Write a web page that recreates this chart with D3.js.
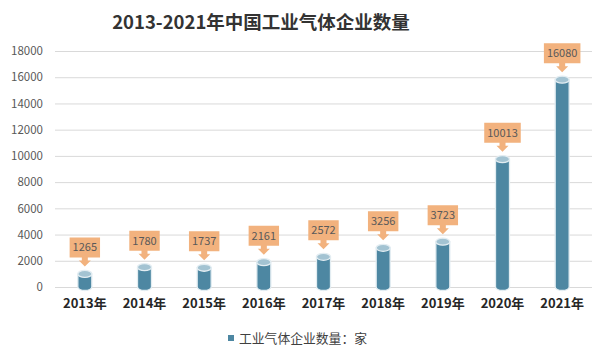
<!DOCTYPE html>
<html><head><meta charset="utf-8">
<script src="https://cdn.jsdelivr.net/npm/d3@7/dist/d3.min.js"></script>
<style>body{margin:0;background:#fff;}svg{display:block;}</style>
</head><body>
<svg id="c" width="595" height="355"></svg>
<script>
const title = "2013-2021年中国工业气体企业数量";
const categories = ["2013年","2014年","2015年","2016年","2017年","2018年","2019年","2020年","2021年"];
const values = [1265,1780,1737,2161,2572,3256,3723,10013,16080];
const yTicks = [0,2000,4000,6000,8000,10000,12000,14000,16000,18000];
const seriesName = "工业气体企业数量：家";

const svg = d3.select("#c");
const W = 595, H = 355;
const m = {l:55, r:3, t:51, b:68};
const x = d3.scaleBand().domain(categories).range([m.l, W-m.r]).paddingInner(0).paddingOuter(0);
const y = d3.scaleLinear().domain([0,18000]).range([H-m.b, m.t]);
const font = "'Noto Sans CJK SC','Noto Sans',sans-serif";

svg.append("text").attr("x",261).attr("y",29).attr("text-anchor","middle")
  .attr("font-family",font).attr("font-weight","bold").attr("font-size",18.5).attr("fill","#333")
  .text(title);

// grid
const yAxis = d3.axisLeft(y).tickValues(yTicks).tickFormat(d3.format("d"))
  .tickSize(-(W-m.r-m.l)).tickPadding(12);
const gy = svg.append("g").attr("transform",`translate(${m.l},0)`).call(yAxis);
gy.select(".domain").remove();
gy.selectAll(".tick line").attr("stroke","#d9d9d9").attr("stroke-width",1);
gy.selectAll(".tick text").attr("font-family",font).attr("font-size",11.5).attr("fill","#595959");

// x labels
const xAxis = d3.axisBottom(x).tickSize(0).tickPadding(12);
const gx = svg.append("g").attr("transform",`translate(0,${y(0)})`).call(xAxis);
gx.select(".domain").remove();
gx.selectAll(".tick text").attr("font-family",font).attr("font-weight","bold").attr("font-size",13).attr("fill","#262626");

// cylinders
const bw = 14, ry = 3.5;
const bars = svg.append("g").selectAll("g").data(values).enter().append("g");
bars.each(function(v,i){
  const g = d3.select(this);
  const cx = x(categories[i]) + x.bandwidth()/2;
  const yt = y(v) + ry, yb = y(0);
  g.append("path")
    .attr("d",`M${cx-bw/2},${yt} L${cx-bw/2},${yb} A${bw/2},${ry} 0 0 0 ${cx+bw/2},${yb} L${cx+bw/2},${yt} Z`)
    .attr("fill","#4d87a2").attr("stroke","#e3edf2").attr("stroke-width",1.3);
  g.append("ellipse").attr("cx",cx).attr("cy",yt).attr("rx",bw/2).attr("ry",ry)
    .attr("fill","#a3c3d2").attr("stroke","#e3edf2").attr("stroke-width",1.3);
});

// callouts
const bh = 20, stem = 3, sw = 3, hw = 6, hh = 6;
const call = svg.append("g").selectAll("g").data(values).enter().append("g");
call.each(function(v,i){
  const g = d3.select(this);
  const cx = x(categories[i]) + x.bandwidth()/2;
  const tip = y(v) - 4;
  const bb = tip - hh - stem;
  const bt = bb - bh;
  const path = g.append("path").attr("fill","#f2b27e");
  const t = g.append("text").attr("x",cx).attr("y",bt+bh/2+4).attr("text-anchor","middle")
    .attr("font-family",font).attr("font-size",11).attr("fill","#595959").text(v);
  const bwid = t.node().getComputedTextLength() + 6;
  path.attr("d",`M${cx-bwid/2},${bt} H${cx+bwid/2} V${bb} H${cx+sw} V${bb+stem} H${cx+hw} L${cx},${tip} L${cx-hw},${bb+stem} H${cx-sw} V${bb} H${cx-bwid/2} Z`);
});

// legend
svg.append("rect").attr("x",228).attr("y",335).attr("width",6).attr("height",6).attr("fill","#4d87a2");
svg.append("text").attr("x",239).attr("y",343).attr("font-family",font).attr("font-size",12.8)
  .attr("fill","#404040").text(seriesName);
</script>
</body></html>
